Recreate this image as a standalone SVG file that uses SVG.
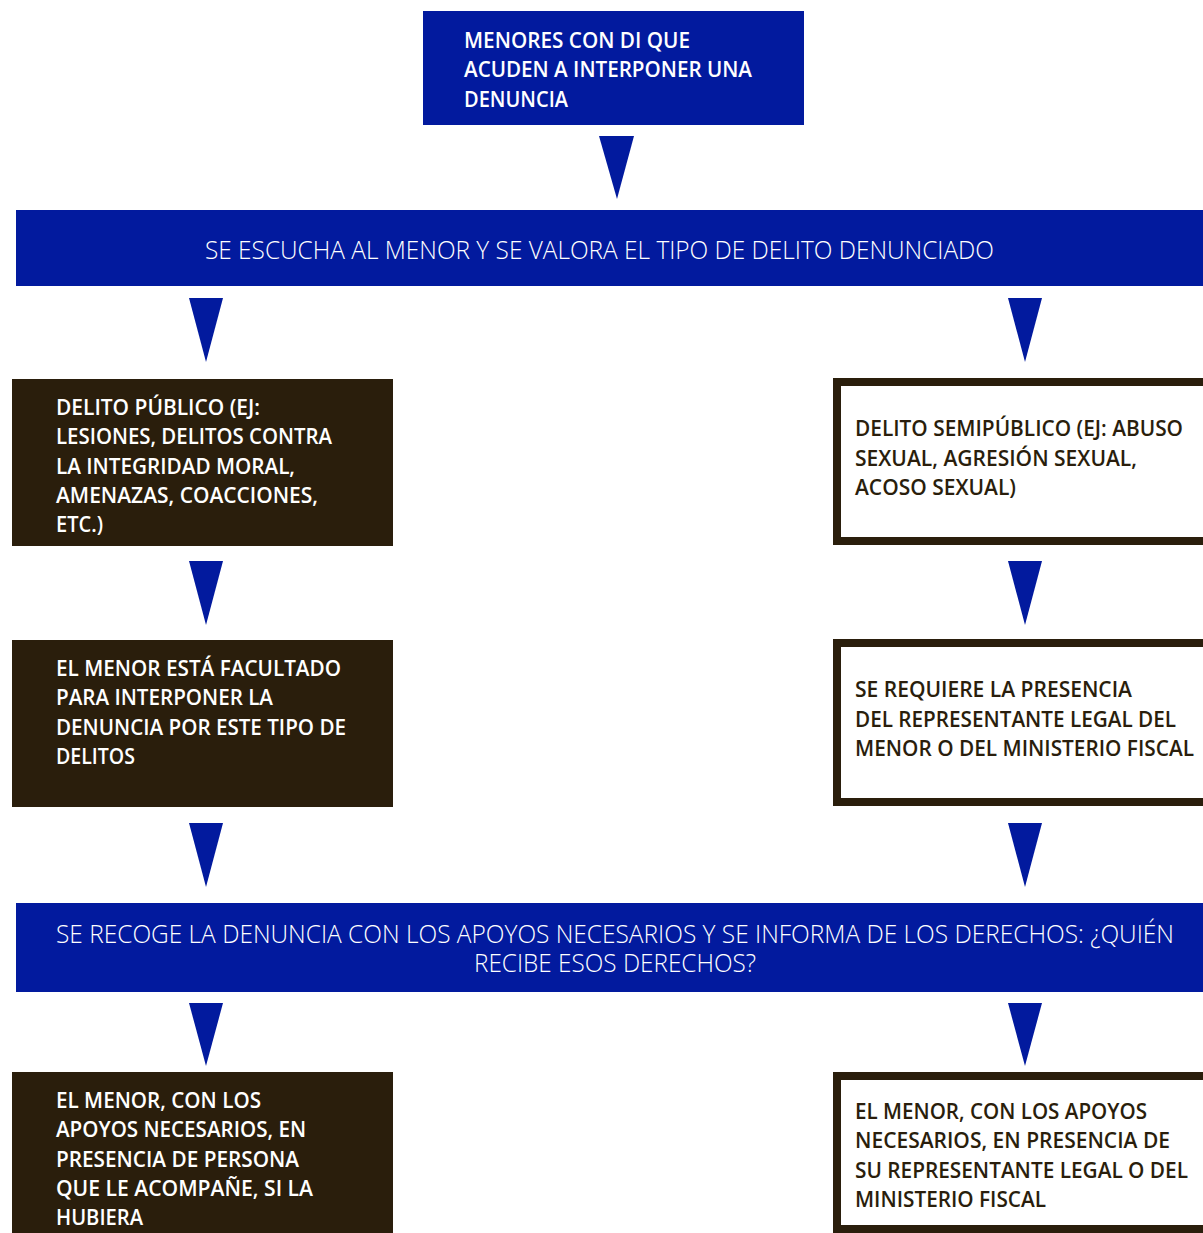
<svg xmlns="http://www.w3.org/2000/svg" width="1203" height="1233" viewBox="0 0 1203 1233">
<style>
.blue{fill:#021a9e}
.dark{fill:#2a1e0c}
.outline{fill:#ffffff;stroke:#2a1e0c;stroke-width:8}
.t{font-family:"Open Sans","Liberation Sans",sans-serif;font-size:21px;font-weight:600}
.w{fill:#ffffff}
.d{fill:#2a1e0c}
.b{font-family:"Open Sans","Liberation Sans",sans-serif;font-size:26px;font-weight:300;fill:#ffffff}
.arr{fill:#021a9e}
</style>
<rect width="1203" height="1233" fill="#ffffff"/>
<g id="connectors">
<polygon class="arr" points="599,136 634,136 617,199"/>
<polygon class="arr" points="189,298 223,298 206,362"/>
<polygon class="arr" points="1008,298 1042,298 1025,362"/>
<polygon class="arr" points="189,561 223,561 206,625"/>
<polygon class="arr" points="1008,561 1042,561 1025,625"/>
<polygon class="arr" points="189,823 223,823 206,887"/>
<polygon class="arr" points="1008,823 1042,823 1025,887"/>
<polygon class="arr" points="189,1003 223,1003 206,1066"/>
<polygon class="arr" points="1008,1003 1042,1003 1025,1066"/>
</g>
<g id="n-start">
<rect class="blue" x="423" y="11" width="381" height="114"/>
<text class="t w" x="464" y="48" textLength="226" lengthAdjust="spacingAndGlyphs">MENORES CON DI QUE</text>
<text class="t w" x="464" y="77" textLength="288" lengthAdjust="spacingAndGlyphs">ACUDEN A INTERPONER UNA</text>
<text class="t w" x="464" y="107" textLength="104" lengthAdjust="spacingAndGlyphs">DENUNCIA</text>
</g>
<g id="n-escucha">
<rect class="blue" x="16" y="210" width="1187" height="76"/>
<text class="b" x="205" y="259" textLength="789" lengthAdjust="spacingAndGlyphs">SE ESCUCHA AL MENOR Y SE VALORA EL TIPO DE DELITO DENUNCIADO</text>
</g>
<g id="n-publico">
<rect class="dark" x="12" y="379" width="381" height="167"/>
<text class="t w" x="56" y="415" textLength="204" lengthAdjust="spacingAndGlyphs">DELITO PÚBLICO (EJ:</text>
<text class="t w" x="56" y="444" textLength="276" lengthAdjust="spacingAndGlyphs">LESIONES, DELITOS CONTRA</text>
<text class="t w" x="56" y="474" textLength="239" lengthAdjust="spacingAndGlyphs">LA INTEGRIDAD MORAL,</text>
<text class="t w" x="56" y="503" textLength="262" lengthAdjust="spacingAndGlyphs">AMENAZAS, COACCIONES,</text>
<text class="t w" x="56" y="532" textLength="47" lengthAdjust="spacingAndGlyphs">ETC.)</text>
</g>
<g id="n-semipublico">
<rect class="outline" x="837" y="382" width="380" height="159"/>
<text class="t d" x="855" y="436" textLength="328" lengthAdjust="spacingAndGlyphs">DELITO SEMIPÚBLICO (EJ: ABUSO</text>
<text class="t d" x="855" y="466" textLength="282" lengthAdjust="spacingAndGlyphs">SEXUAL, AGRESIÓN SEXUAL,</text>
<text class="t d" x="855" y="495" textLength="161" lengthAdjust="spacingAndGlyphs">ACOSO SEXUAL)</text>
</g>
<g id="n-facultado">
<rect class="dark" x="12" y="640" width="381" height="167"/>
<text class="t w" x="56" y="676" textLength="285" lengthAdjust="spacingAndGlyphs">EL MENOR ESTÁ FACULTADO</text>
<text class="t w" x="56" y="705" textLength="217" lengthAdjust="spacingAndGlyphs">PARA INTERPONER LA</text>
<text class="t w" x="56" y="735" textLength="290" lengthAdjust="spacingAndGlyphs">DENUNCIA POR ESTE TIPO DE</text>
<text class="t w" x="56" y="764" textLength="79" lengthAdjust="spacingAndGlyphs">DELITOS</text>
</g>
<g id="n-requiere">
<rect class="outline" x="837" y="643" width="380" height="159"/>
<text class="t d" x="855" y="697" textLength="277" lengthAdjust="spacingAndGlyphs">SE REQUIERE LA PRESENCIA</text>
<text class="t d" x="855" y="727" textLength="321" lengthAdjust="spacingAndGlyphs">DEL REPRESENTANTE LEGAL DEL</text>
<text class="t d" x="855" y="756" textLength="339" lengthAdjust="spacingAndGlyphs">MENOR O DEL MINISTERIO FISCAL</text>
</g>
<g id="n-recoge">
<rect class="blue" x="16" y="903" width="1187" height="89"/>
<text class="b" x="56" y="943" textLength="1118" lengthAdjust="spacingAndGlyphs">SE RECOGE LA DENUNCIA CON LOS APOYOS NECESARIOS Y SE INFORMA DE LOS DERECHOS: ¿QUIÉN</text>
<text class="b" x="474" y="972" textLength="282" lengthAdjust="spacingAndGlyphs">RECIBE ESOS DERECHOS?</text>
</g>
<g id="n-menor-persona">
<rect class="dark" x="12" y="1072" width="381" height="170"/>
<text class="t w" x="56" y="1108" textLength="205" lengthAdjust="spacingAndGlyphs">EL MENOR, CON LOS</text>
<text class="t w" x="56" y="1137" textLength="250" lengthAdjust="spacingAndGlyphs">APOYOS NECESARIOS, EN</text>
<text class="t w" x="56" y="1167" textLength="243" lengthAdjust="spacingAndGlyphs">PRESENCIA DE PERSONA</text>
<text class="t w" x="56" y="1196" textLength="257" lengthAdjust="spacingAndGlyphs">QUE LE ACOMPAÑE, SI LA</text>
<text class="t w" x="56" y="1225" textLength="87" lengthAdjust="spacingAndGlyphs">HUBIERA</text>
</g>
<g id="n-menor-representante">
<rect class="outline" x="837" y="1076" width="380" height="153"/>
<text class="t d" x="855" y="1119" textLength="292" lengthAdjust="spacingAndGlyphs">EL MENOR, CON LOS APOYOS</text>
<text class="t d" x="855" y="1148" textLength="315" lengthAdjust="spacingAndGlyphs">NECESARIOS, EN PRESENCIA DE</text>
<text class="t d" x="855" y="1178" textLength="333" lengthAdjust="spacingAndGlyphs">SU REPRESENTANTE LEGAL O DEL</text>
<text class="t d" x="855" y="1207" textLength="191" lengthAdjust="spacingAndGlyphs">MINISTERIO FISCAL</text>
</g>
</svg>
